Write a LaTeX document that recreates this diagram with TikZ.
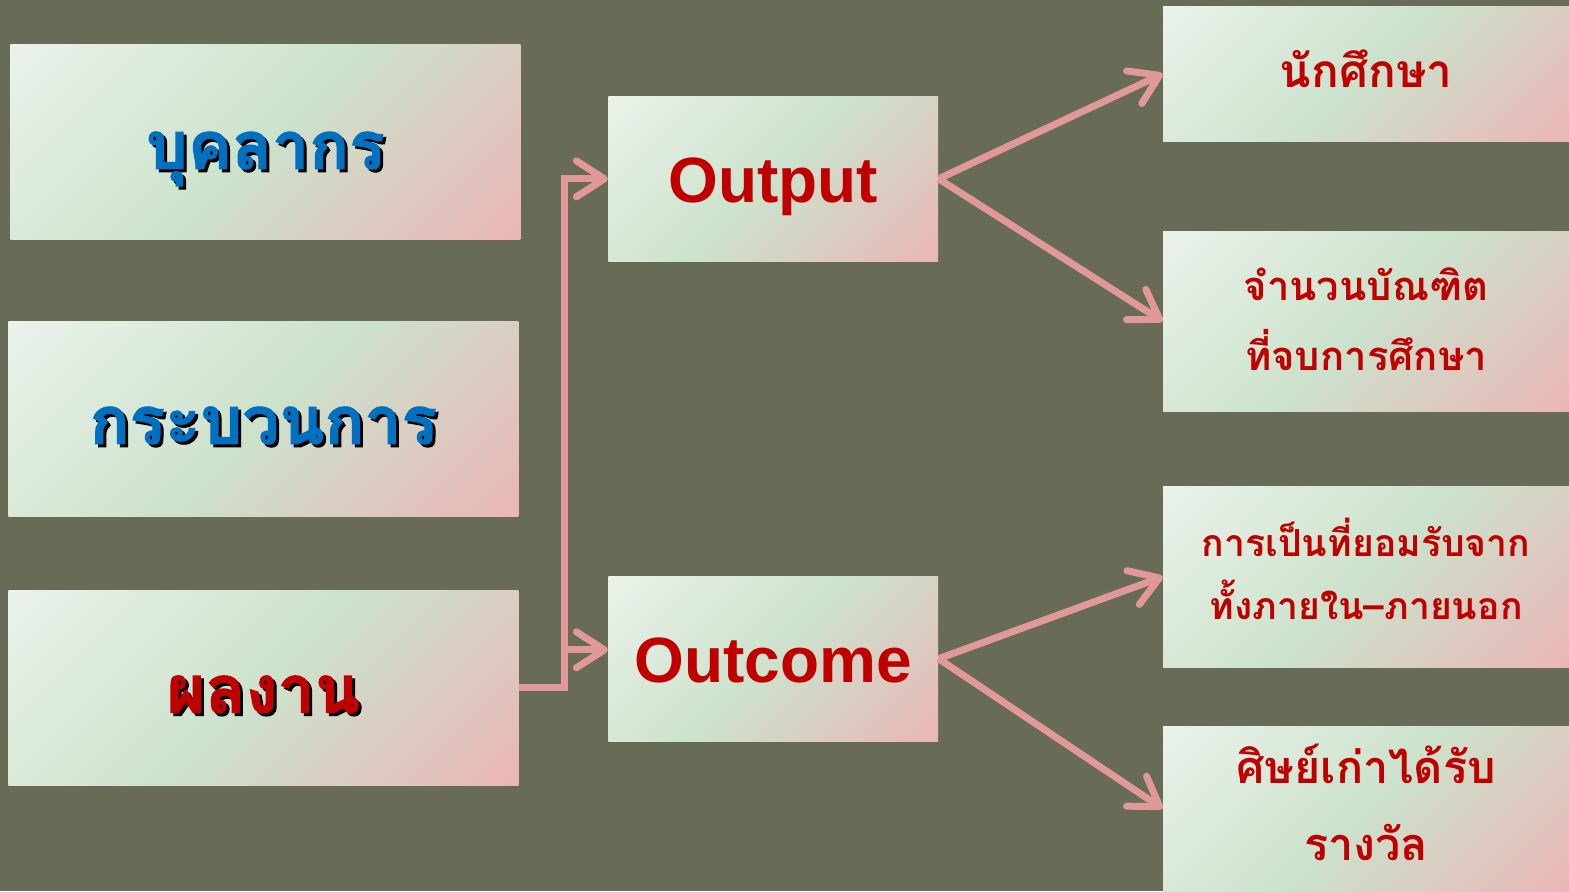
\documentclass[tikz,border=0pt]{standalone}
\usepackage{fontspec}
\setmainfont{Liberation Sans}
\newfontfamily\thaifont[Script=Thai]{Loma}
\newfontfamily\thaiheavy[Script=Thai,FakeBold=1.6]{Loma}
\usetikzlibrary{arrows.meta}

\definecolor{bgolive}{RGB}{104,107,85}
\definecolor{linkpink}{RGB}{224,152,152}
\definecolor{txtred}{RGB}{192,0,0}
\definecolor{txtblue}{RGB}{0,112,192}
\definecolor{gtop}{RGB}{234,242,234}
\definecolor{gmid}{RGB}{204,226,204}
\definecolor{gpink}{RGB}{234,182,182}
\pgfdeclarehorizontalshading{boxgrad}{100bp}{color(0bp)=(gtop); color(15bp)=(gtop); color(50bp)=(gmid); color(85bp)=(gpink); color(100bp)=(gpink)}

% text with a black drop shadow
\newcommand\shadowed[2]{\makebox[0pt][l]{\hspace{1.5pt}\raisebox{-1.5pt}{\textcolor{black}{#2}}}\textcolor{#1}{#2}}

\begin{document}
\begin{tikzpicture}[x=0.5pt, y=-0.5pt,
    box/.style={shading=boxgrad, shade, shading angle=-45, inner sep=0pt, anchor=north west, align=center},
    bigbox/.style={box, minimum width=255pt, minimum height=97.5pt, text height=31pt, text depth=6pt, font=\thaiheavy\bfseries\fontsize{33}{36}\selectfont},
    midbox/.style={box, minimum width=165pt, minimum height=82.5pt, text height=30pt, text depth=6pt, font=\bfseries\fontsize{32}{36}\selectfont, text=txtred},
    sidebox/.style={box, minimum width=203pt, text height=18pt, text depth=4pt, font=\thaifont\bfseries\fontsize{23}{35}\selectfont, text=txtred},
    link/.style={draw=linkpink, line width=3.5pt},
    arr/.style={link, -{Straight Barb[length=14pt, width=18pt, round]}}
]
    % Background
    \fill[bgolive] (0,0) rectangle (1569,891);

    % Left column
    \node[bigbox, text height=33pt] (pers) at (10,44)  {\shadowed{txtblue}{บุคลากร}};
    \node[bigbox] (proc) at (8,321)  {\shadowed{txtblue}{กระบวนการ}};
    \node[bigbox] (res)  at (8,590)  {\shadowed{txtred}{ผลงาน}};

    % Middle column
    \node[midbox] (out)  at (608,96)  {Output};
    \node[midbox] (outc) at (608,576) {Outcome};

    % Right column
    \node[sidebox, minimum height=67.5pt] (stu)   at (1163,6)   {นักศึกษา};
    \node[sidebox, minimum height=90pt, text height=53pt, font=\thaifont\bfseries\fontsize{20}{35}\selectfont] (grad)  at (1163,231) {จำนวนบัณฑิต\\ที่จบการศึกษา};
    \node[sidebox, minimum height=90.5pt, text height=47.5pt, text depth=4.5pt, font=\thaifont\bfseries\fontsize{18.7}{31.5}\selectfont] (recog) at (1163,486) {การเป็นที่ยอมรับจาก\\ทั้งภายใน–ภายนอก};
    \node[sidebox, minimum height=82.5pt, text height=55.5pt, text depth=4pt, font=\thaifont\bfseries\fontsize{22.5}{38.5}\selectfont] (alum)  at (1163,726) {ศิษย์เก่าได้รับ\\รางวัล};

    % Connectors
    \coordinate (bend) at (565,650);
    \draw[arr] (res.east) -| (bend) |- (out.west);
    \draw[arr] (bend) -- (bend -| outc.west);
    \draw[arr] (out.east) -- (stu.west);
    \draw[arr] (out.east) -- (grad.west);
    \draw[arr] (outc.east) -- (recog.west);
    \draw[arr] (outc.east) -- (alum.west);
\end{tikzpicture}
\end{document}
